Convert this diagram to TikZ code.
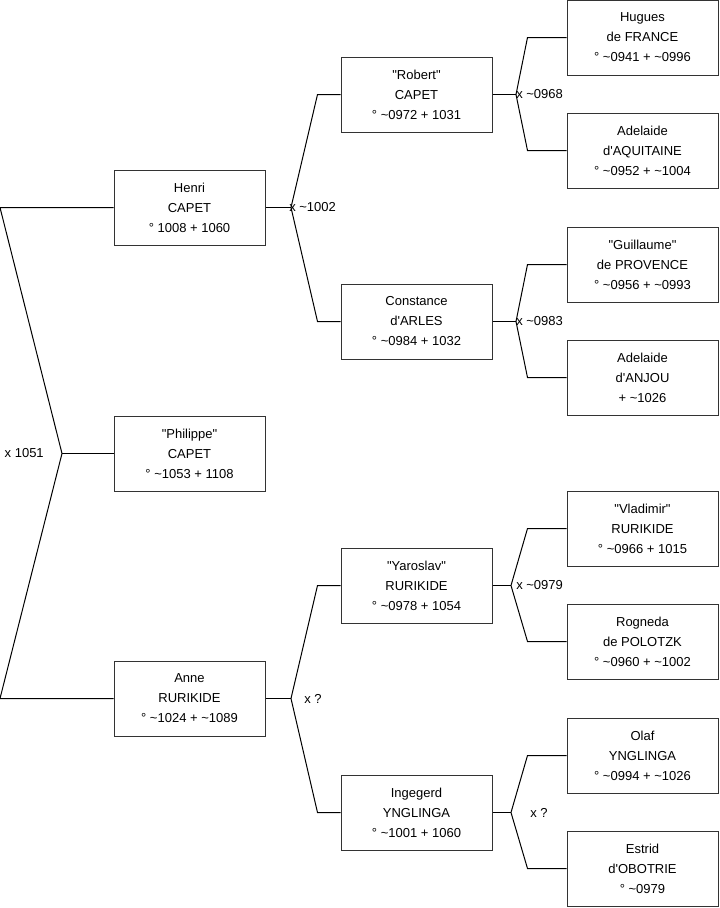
\documentclass[tikz,border=0pt]{standalone}
\usepackage{fontspec}
\setmainfont{Liberation Sans}[Ligatures=TeXOff]
\usepackage{tikz}
\usetikzlibrary{
    positioning,
    calc
}
\definecolor{Pline}{RGB}{0, 0, 0}
\definecolor{Pbox}{RGB}{51, 51, 51}
\newcommand{\ca}{\textasciitilde}
\tikzset{
    person/.style={
        rectangle, draw=Pbox, line width=0.75pt, fill=white, text=black,
        minimum width=113.25pt, minimum height=56.25pt, inner sep=0pt,
        align=center, font=\fontsize{9.75}{15}\selectfont
    },
    union/.style={
        font=\fontsize{9.75}{11}\selectfont, inner sep=0pt, text=black
    },
    link/.style={draw=Pline, line width=0.75pt},
}

\begin{document}
\begin{tikzpicture}[x=0.75pt, y=-0.75pt]

    \useasboundingbox (0,0) rectangle (719,908);
    \coordinate (edge) at (0,0);

    % -- generation 1 ------------------------------------------
    \node [person] (henri)    at (189.5,207.5) {Henri\\CAPET\\° 1008 + 1060};
    \node [person] (philippe) at (189.5,453.5) {"Philippe"\\CAPET\\° \ca1053 + 1108};
    \node [person] (anne)     at (189.5,698.5) {Anne\\RURIKIDE\\° \ca1024 + \ca1089};

    % -- generation 2 ------------------------------------------
    \node [person] (robert)    at (416.5,94.5)  {"Robert"\\CAPET\\° \ca0972 + 1031};
    \node [person] (constance) at (416.5,321.5) {Constance\\d'ARLES\\° \ca0984 + 1032};
    \node [person] (yaroslav)  at (416.5,585.5) {"Yaroslav"\\RURIKIDE\\° \ca0978 + 1054};
    \node [person] (ingegerd)  at (416.5,812.5) {Ingegerd\\YNGLINGA\\° \ca1001 + 1060};

    % -- generation 3 ------------------------------------------
    \node [person] (hugues)    at (642.5,37.5)  {Hugues\\de FRANCE\\° \ca0941 + \ca0996};
    \node [person] (adelaq)    at (642.5,150.5) {Adelaide\\d'AQUITAINE\\° \ca0952 + \ca1004};
    \node [person] (guillaume) at (642.5,264.5) {"Guillaume"\\de PROVENCE\\° \ca0956 + \ca0993};
    \node [person] (adelanj)   at (642.5,377.5) {Adelaide\\d'ANJOU\\ + \ca1026};
    \node [person] (vladimir)  at (642.5,528.5) {"Vladimir"\\RURIKIDE\\° \ca0966 + 1015};
    \node [person] (rogneda)   at (642.5,641.5) {Rogneda\\de POLOTZK\\° \ca0960 + \ca1002};
    \node [person] (olaf)      at (642.5,755.5) {Olaf\\YNGLINGA\\° \ca0994 + \ca1026};
    \node [person] (estrid)    at (642.5,868.5) {Estrid\\d'OBOTRIE\\° \ca0979};

    % -- unions ------------------------------------------------
    \coordinate (m0) at (62,453.5);
    \coordinate (m1) at (291,207.5);
    \coordinate (m2) at (291,698.5);
    \coordinate (m3) at (516,94.5);
    \coordinate (m4) at (516,321.5);
    \coordinate (m5) at (511,585.5);
    \coordinate (m6) at (511,812.5);

    \draw [link] (henri.west) -- (henri.west -| edge) -- (m0) -- (anne.west -| edge) -- (anne.west);
    \draw [link] (m0) -- (philippe.west);

    \draw [link] (henri.east) -- (m1);
    \draw [link] (robert.west) -- ++(-23,0) -- (m1) -- ($(constance.west)+(-23,0)$) -- (constance.west);
    \draw [link] (anne.east) -- (m2);
    \draw [link] (yaroslav.west) -- ++(-23,0) -- (m2) -- ($(ingegerd.west)+(-23,0)$) -- (ingegerd.west);

    \draw [link] (robert.east) -- (m3);
    \draw [link] (hugues.west) -- ++(-39,0) -- (m3) -- ($(adelaq.west)+(-39,0)$) -- (adelaq.west);
    \draw [link] (constance.east) -- (m4);
    \draw [link] (guillaume.west) -- ++(-39,0) -- (m4) -- ($(adelanj.west)+(-39,0)$) -- (adelanj.west);
    \draw [link] (yaroslav.east) -- (m5);
    \draw [link] (vladimir.west) -- ++(-39,0) -- (m5) -- ($(rogneda.west)+(-39,0)$) -- (rogneda.west);
    \draw [link] (ingegerd.east) -- (m6);
    \draw [link] (olaf.west) -- ++(-39,0) -- (m6) -- ($(estrid.west)+(-39,0)$) -- (estrid.west);

    % -- union labels ------------------------------------------
    \node [union, anchor=east] (l0) at ($(m0)+(-18,0)$) {x 1051};
    \node [union, anchor=west] (l1) at ($(m1)+(-2,0)$)  {x \ca1002};
    \node [union, anchor=west] (l2) at ($(m2)+(13,0)$)  {x ?};
    \node [union, anchor=west] (l3) at ($(m3)+(0,0)$)   {x \ca0968};
    \node [union, anchor=west] (l4) at ($(m4)+(0,0)$)   {x \ca0983};
    \node [union, anchor=west] (l5) at ($(m5)+(5,0)$)   {x \ca0979};
    \node [union, anchor=west] (l6) at ($(m6)+(19,0)$)  {x ?};

\end{tikzpicture}
\end{document}
